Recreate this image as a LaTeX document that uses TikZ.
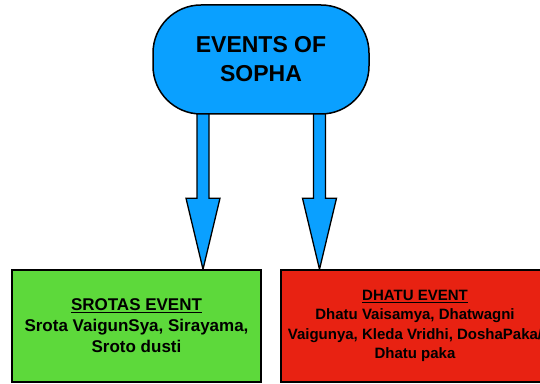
\documentclass[tikz,border=0pt]{standalone}
\usepackage{fontspec}
\setmainfont{Liberation Sans}
\usetikzlibrary{calc}

\definecolor{sophablue}{RGB}{10,160,255}
\definecolor{srotasgreen}{RGB}{93,217,59}
\definecolor{dhatured}{RGB}{232,34,18}

\pgfdeclarelayer{background}
\pgfsetlayers{background,main}

\tikzset{
  event/.style={draw=black, line width=1.5pt, align=center, inner sep=0pt},
  fatarrow/.style={draw=black, line width=1.3pt, fill=sophablue, line join=miter},
}

% block arrow from #1 down to #2
\newcommand{\blockarrow}[2]{%
  \draw[fatarrow] let \p1=(#1), \p2=(#2) in
    (\x1-6pt,\y1+6pt) -- (\x1-6pt,\y2+71pt) -- (\x1-17pt,\y2+71pt) -- (\x1,\y2)
    -- (\x1+17pt,\y2+71pt) -- (\x1+6pt,\y2+71pt) -- (\x1+6pt,\y1+6pt);}

\begin{document}
\begin{tikzpicture}[x=1pt, y=1pt]
\useasboundingbox (0,0) rectangle (540,383);
\clip (0,0) rectangle (540,383);

%%%%%%%%%%%% Events
\node[event, fill=sophablue, rounded corners=48pt, minimum width=216pt,
      minimum height=109pt, font=\fontsize{23}{29}\selectfont\bfseries]
      (sopha) at (261,323.5) {EVENTS OF\\SOPHA};

\node[event, fill=srotasgreen, minimum width=249pt, minimum height=112pt,
      font=\fontsize{17}{21}\selectfont\bfseries]
      (srotas) at (136.5,57) {\underline{SROTAS EVENT}\\Srota VaigunSya, Sirayama,\\Sroto dusti};

\node[event, fill=dhatured, minimum width=268pt, minimum height=112pt,
      font=\fontsize{15}{19.5}\selectfont\bfseries]
      (dhatu) at (415,57) {\underline{DHATU EVENT}\\Dhatu Vaisamya, Dhatwagni\\Vaigunya, Kleda Vridhi, DoshaPaka/\\Dhatu paka};

%%%%%%%%%%%% Arrows
\coordinate (a1) at ($(sopha.south)+(-58,0)$);
\coordinate (a2) at ($(sopha.south)+(58.5,0)$);
\begin{pgfonlayer}{background}
  \blockarrow{a1}{a1 |- srotas.north}
  \blockarrow{a2}{a2 |- dhatu.north}
\end{pgfonlayer}
\end{tikzpicture}
\end{document}
